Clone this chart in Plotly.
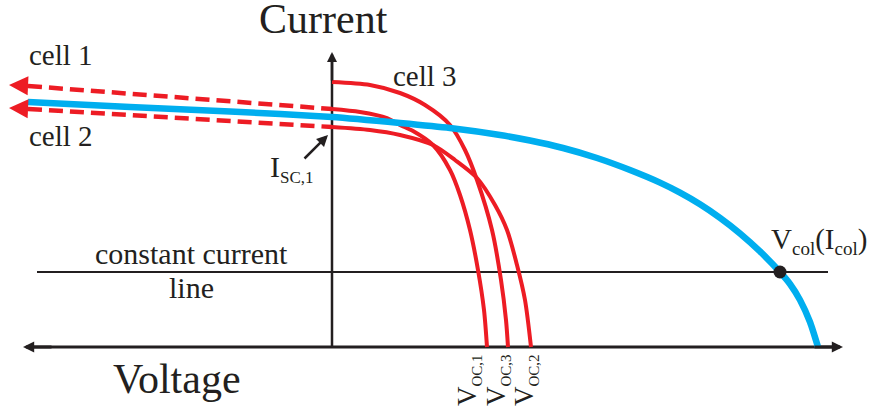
import plotly.graph_objects as go

# ---- data (voltage, current) in arbitrary units; origin at axes crossing ----
collector_v = [-304, -202, -102, 0, 68, 118, 168, 198, 231, 265, 298, 328, 348, 368,
               388, 408, 428, 448, 458, 468, 478, 486]
collector_i = [245, 240, 235.5, 230, 224, 219, 212, 206.5, 199, 189, 177, 164.4, 154.4, 142.8,
               129.2, 113.6, 95.6, 75, 63, 47, 25, 0]

cell3_v = [0, 38, 68, 93, 118, 133, 145, 160, 169, 174, 176]
cell3_i = [265, 262, 254, 242, 222, 197, 167, 117, 67, 27, 0]

cell1_v = [0, 28, 55, 68, 81, 101, 118, 128, 138, 146, 152, 155]
cell1_i = [238, 235, 229, 222, 216, 202, 177, 152, 117, 77, 37, 0]

cell2_v = [0, 38, 68, 101, 123, 145, 163, 175, 185, 193, 199]
cell2_i = [220, 217, 212, 202, 187, 169, 142, 117, 82, 47, 0]

# reverse-bias extensions (dashed) of cells 1 and 2
cell1_ext_v = [-304, 0]
cell1_ext_i = [261, 238]
cell2_ext_v = [-304, 0]
cell2_ext_i = [238, 220]

# operating point
v_col = [448]
i_col = [75]
I_CONST = 75

# axis extents
V_LEFT, V_RIGHT = -309, 511
I_TOP = 295
CONST_LEFT, CONST_RIGHT = -295, 496

RED = "#ED1C24"
BLUE = "#00AEEF"
BLACK = "#231F20"
FONT = "Liberation Serif"

fig = go.Figure()

# axes lines
fig.add_trace(go.Scatter(x=[V_LEFT + 8, V_RIGHT - 8], y=[0, 0], mode="lines",
                         line=dict(color=BLACK, width=2.8), hoverinfo="skip"))
fig.add_trace(go.Scatter(x=[0, 0], y=[0, I_TOP - 8], mode="lines",
                         line=dict(color=BLACK, width=2.5), hoverinfo="skip"))

# constant current line
fig.add_trace(go.Scatter(x=[CONST_LEFT, CONST_RIGHT], y=[I_CONST, I_CONST], mode="lines",
                         line=dict(color=BLACK, width=2), hoverinfo="skip"))

# dashed extensions
for xs, ys in [(cell1_ext_v, cell1_ext_i), (cell2_ext_v, cell2_ext_i)]:
    fig.add_trace(go.Scatter(x=xs, y=ys, mode="lines",
                             line=dict(color=RED, width=4.5, dash="14px,7px"), hoverinfo="skip"))

# cell curves
for xs, ys in [(cell3_v, cell3_i), (cell1_v, cell1_i), (cell2_v, cell2_i)]:
    fig.add_trace(go.Scatter(x=xs, y=ys, mode="lines",
                             line=dict(color=RED, width=4, shape="spline", smoothing=0.8),
                             hoverinfo="skip"))

# collector curve
fig.add_trace(go.Scatter(x=collector_v, y=collector_i, mode="lines",
                         line=dict(color=BLUE, width=6.5, shape="spline", smoothing=0.6),
                         hoverinfo="skip"))

# operating point
fig.add_trace(go.Scatter(x=v_col, y=i_col, mode="markers",
                         marker=dict(color=BLACK, size=13), hoverinfo="skip"))

annotations = []

def arrow(x, y, ax, ay, color, width, size):
    annotations.append(dict(x=x, y=y, ax=ax, ay=ay, xref="x", yref="y", axref="x", ayref="y",
                            text="", showarrow=True, arrowhead=2, arrowsize=size,
                            arrowwidth=width, arrowcolor=color))

# axes arrowheads
arrow(0, I_TOP, 0, I_TOP - 30, BLACK, 2.5, 0.8)
arrow(V_LEFT, 0, V_LEFT + 30, 0, BLACK, 2.8, 0.8)
arrow(V_RIGHT, 0, V_RIGHT - 30, 0, BLACK, 2.8, 0.8)

# red arrowheads on dashed extensions
arrow(-323, 262, -300, 261, RED, 3, 1.27)
arrow(-323, 239, -300, 238, RED, 3, 1.27)

# I_SC,1 pointer
arrow(-4, 212, -29, 187, BLACK, 2.5, 0.9)

def label(text, x, y, size, xanchor="center", yanchor="middle", angle=0):
    annotations.append(dict(x=x, y=y, xref="x", yref="y", text=text, showarrow=False,
                            xanchor=xanchor, yanchor=yanchor, textangle=angle,
                            font=dict(family=FONT, size=size, color=BLACK)))

label("Current", -9, 328, 42)
label("Voltage", -155, -32, 42)
label("cell 1", -271, 292, 29)
label("cell 2", -271, 211, 29)
label("cell 3", 93, 271, 29)
label("constant current", -141, 94, 30)
label("line", -141, 60, 30)

def sub(t, s):
    return '<sub><span style="font-size:%dpx">%s</span></sub>' % (s, t)

label("I" + sub("SC,1", 17), -64, 179, 30, xanchor="left")
label("V" + sub("col", 19) + "(I" + sub("col", 19) + ")", 437, 106, 29, xanchor="left")
label("V" + sub("OC,1", 15), 136, -5, 27, yanchor="top", angle=-90)
label("V" + sub("OC,3", 15), 165, -5, 27, yanchor="top", angle=-90)
label("V" + sub("OC,2", 15), 193, -5, 27, yanchor="top", angle=-90)

fig.update_layout(
    width=875, height=412,
    margin=dict(l=0, r=0, t=0, b=0),
    paper_bgcolor="white", plot_bgcolor="white",
    showlegend=False,
    xaxis=dict(range=[-332, 543], visible=False, fixedrange=True),
    yaxis=dict(range=[-65, 347], visible=False, fixedrange=True),
    annotations=annotations,
)

fig.write_html("out.html", config={"displayModeBar": False},
               post_script="document.body.style.margin='0px';")
